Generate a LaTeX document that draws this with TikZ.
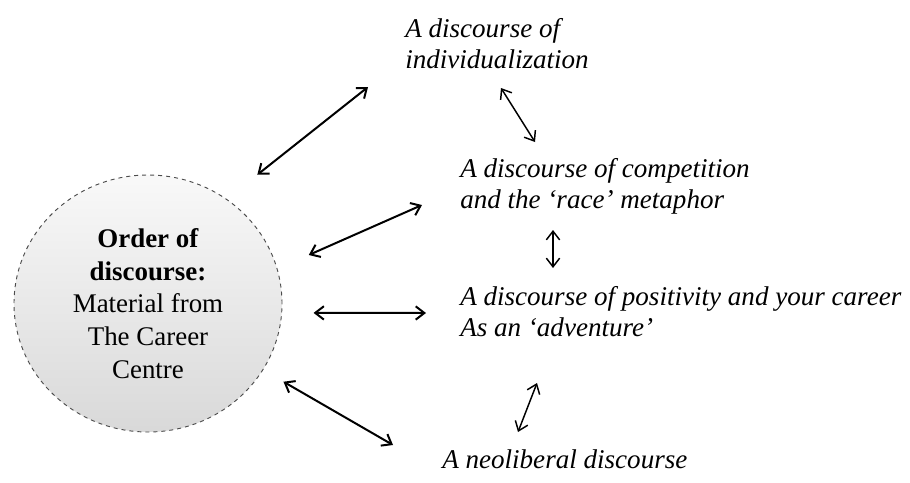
\documentclass[tikz,border=0pt]{standalone}
\usepackage{fontspec}
\setmainfont{Liberation Serif}
\usetikzlibrary{arrows.meta,shapes.geometric}

\begin{document}
\begin{tikzpicture}
[
	                x = 0.75pt,
	                y = -0.75pt,
	               >= {Straight Barb[length=6.5pt,width=10pt]},
	    order/.style = { draw=black!70, dashed, line width=0.7pt, ellipse, inner sep=0pt,
	                     minimum width=201pt, minimum height=192.75pt,
	                     top color=gray!5, bottom color=gray!30, align=center,
	                     font=\fontsize{20.2}{24.5}\selectfont },
	    theme/.style = { draw=none, fill=none, anchor=north west, inner sep=0pt, align=left,
	                     font=\fontsize{20.3}{23.5}\selectfont\itshape },
	     link/.style = { <->, line width=1.5pt },
	 thinlink/.style = { <->, line width=1.1pt }
]

    \useasboundingbox (0,0) rectangle (910,482);

    \node (Order)          at (148,303.5) [order]  {\textbf{Order of}\\\textbf{discourse:}\\Material from\\The Career\\Centre};

    \node (Individual)     at (405, 18) [theme]    {A discourse of\\individualization};
    \node (Competition)    at (460,158) [theme]    {A discourse of competition\\and the `race' metaphor};
    \node (Positivity)     at (460,286) [theme]    {A discourse of positivity and your career\\As an `adventure'};
    \node (Neoliberal)     at (442,449) [theme]    {A neoliberal discourse};

    % from the order of discourse
    \draw[link, shorten <=29.25pt] (Order.53)    -- ([shift={(-37,69)}]Individual.north west);
    \draw[link, shorten <=25.65pt] (Order.15.6)  -- ([shift={(-38,47)}]Competition.north west);
    \draw[link, shorten <=23.6pt]  (Order.-4)    -- ([shift={(-34,27)}]Positivity.north west);
    \draw[link, shorten <=17.55pt] (Order.-30.9) -- ([shift={(-49,-4)}]Neoliberal.north west);

    % between the discourses
    \draw[thinlink] ([shift={(96,70)}]Individual.north west)  -- ([shift={(75,-16)}]Competition.north west);
    \draw[thinlink] ([shift={(93,72)}]Competition.north west) -- ([shift={(93,-18)}]Positivity.north west);
    \draw[thinlink] ([shift={(77,97)}]Positivity.north west)  -- ([shift={(76,-17)}]Neoliberal.north west);

\end{tikzpicture}
\end{document}
